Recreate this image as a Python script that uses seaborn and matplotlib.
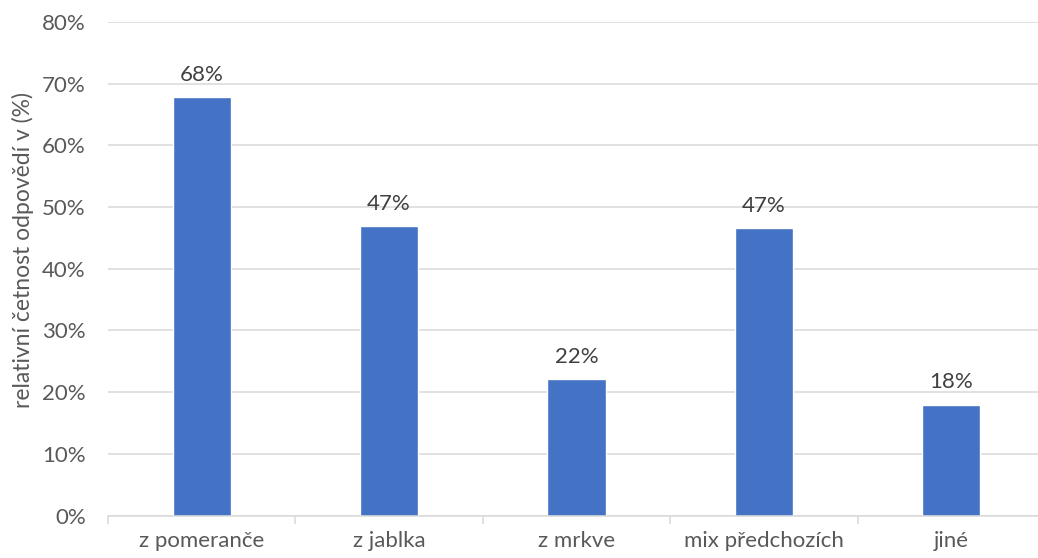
import matplotlib
matplotlib.use("Agg")
import matplotlib.pyplot as plt
import numpy as np
import pandas as pd
import seaborn as sns
from matplotlib.ticker import FixedLocator, PercentFormatter

# Data
categories = ["z pomeranče", "z jablka", "z mrkve", "mix předchozích", "jiné"]
values = [67.8, 46.9, 22.1, 46.6, 18.0]

BAR_COLOR = "#4472C4"
TEXT_COLOR = "#595959"
GRID_COLOR = "#D9D9D9"
FS = 16

sns.set_theme(style="white")
plt.rcParams["font.family"] = ["Lato", "DejaVu Sans"]

df = pd.DataFrame({"kategorie": categories, "hodnota": values})

fig = plt.figure(figsize=(10.38, 5.58), dpi=100)
ax = fig.add_axes([0.104, 0.076, 0.9027, 0.8846])

sns.barplot(data=df, x="kategorie", y="hodnota", color=BAR_COLOR,
            width=0.31, saturation=1, ax=ax, zorder=3)

ax.set_ylim(0, 80)
ax.set_xlim(-0.5, len(categories) - 0.5)
ax.yaxis.set_major_locator(FixedLocator(np.arange(0, 81, 10)))
ax.yaxis.set_major_formatter(PercentFormatter(decimals=0))
ax.grid(axis="y", color=GRID_COLOR, lw=1.1, zorder=0)
ax.set_axisbelow(True)

for side in ["top", "right", "left"]:
    ax.spines[side].set_visible(False)
ax.spines["bottom"].set_color(GRID_COLOR)
ax.spines["bottom"].set_linewidth(1.1)
ax.spines["bottom"].set_zorder(4)

# tick marks between categories, like the original
ax.set_xticks(np.arange(-0.5, len(categories), 1.0), minor=True)
ax.tick_params(axis="x", which="minor", length=6, width=1.1, color=GRID_COLOR,
               bottom=True)
ax.tick_params(axis="x", which="major", length=0, pad=11,
               labelsize=FS, labelcolor=TEXT_COLOR)
ax.tick_params(axis="y", length=0, pad=16, labelsize=FS, labelcolor=TEXT_COLOR)

ax.set_xlabel("")
ax.set_ylabel("relativní četnost odpovědí v (%)", fontsize=FS + 0.5,
              color=TEXT_COLOR)
ax.yaxis.set_label_coords(-0.079, 0.538)

ax.bar_label(ax.containers[0], labels=[f"{v:.0f}%" for v in values],
             padding=9, fontsize=FS, color="#404040")

fig.savefig("out.png", dpi=100)
